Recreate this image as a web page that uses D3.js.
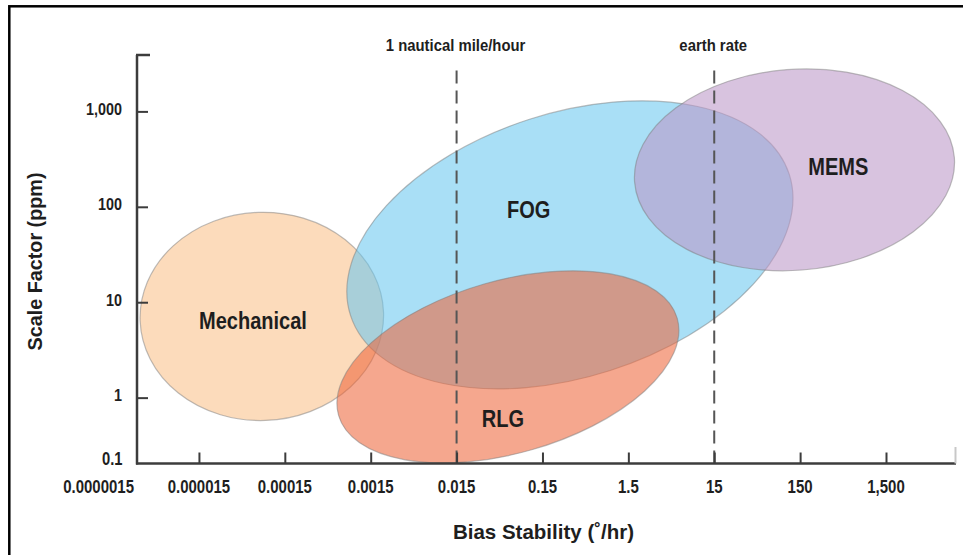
<!DOCTYPE html>
<html>
<head>
<meta charset="utf-8">
<script src="https://cdn.jsdelivr.net/npm/d3@7"></script>
<style>
  html, body { margin: 0; padding: 0; background: #ffffff; }
  svg { display: block; }
  .lbl { font-family: "Liberation Sans", Arial, Helvetica, sans-serif; font-weight: bold; fill: #1e1e1e; }
</style>
</head>
<body>
<script>
// ---- data ----
const technologies = ["Mechanical", "FOG", "RLG", "MEMS"];
const centerBias   = [8.1e-5, 0.313, 0.0594, 129];   // deg/hr
const centerScale  = [7.1, 39.9, 2.10, 244];         // ppm
const halfBiasDecades  = [1.418, 2.683, 2.051, 1.867]; // semi-axis (decades of bias)
const halfScaleDecades = [1.091, 1.383, 0.904, 1.053]; // semi-axis (decades of scale factor)
const tiltDeg      = [2, 17.8, 16, 4.4];
const fillColors   = ["#fac088", "#68c7ef", "#ed6539", "#ba96c7"];
const labelBias    = [6.38e-5, 0.1036, 0.052, 417];
const labelScale   = [5.3, 75.9, 0.497, 216];

const xTickValues = [0.000015, 0.00015, 0.0015, 0.015, 0.15, 1.5, 15, 150, 1500];
const xTickLabels = ["0.000015", "0.00015", "0.0015", "0.015", "0.15", "1.5", "15", "150", "1,500"];
const xOriginLabel = "0.0000015";
const yTickValues = [1, 10, 100, 1000];
const yTickLabels = ["1", "10", "100", "1,000"];
const yOriginLabel = "0.1";
const xDomain = [2.85e-6, 9800];
const yDomain = [0.204, 3900];

const refLineValues = [0.015, 15];
const refLineLabels = ["1 nautical mile/hour", "earth rate"];

const xTitle = "Bias Stability (˚/hr)";
const yTitle = "Scale Factor (ppm)";

// ---- drawing ----
const W = 963, H = 555;
const svg = d3.select("body").append("svg").attr("width", W).attr("height", H);

const x = d3.scaleLog().domain(xDomain).range([137, 956]);
const y = d3.scaleLog().domain(yDomain).range([463.5, 55]);

// horizontally condensed real text
function label(px, py, anchor, size, sx, str) {
  return svg.append("text").attr("class", "lbl").attr("font-size", size)
    .attr("transform", `translate(${px},${py}) scale(${sx},1)`)
    .attr("text-anchor", anchor).text(str);
}

// frame
svg.append("rect").attr("x", 9.3).attr("y", 6.3).attr("width", 980).attr("height", 580)
  .attr("fill", "none").attr("stroke", "#000").attr("stroke-width", 2.5);

// ellipses
const eg = svg.append("g");
technologies.forEach((t, i) => {
  const cx = x(centerBias[i]), cy = y(centerScale[i]);
  const rx = x(centerBias[i] * Math.pow(10, halfBiasDecades[i])) - cx;
  const ry = cy - y(centerScale[i] * Math.pow(10, halfScaleDecades[i]));
  eg.append("ellipse")
    .attr("cx", cx).attr("cy", cy).attr("rx", rx).attr("ry", ry)
    .attr("transform", `rotate(${-tiltDeg[i]},${cx},${cy})`)
    .attr("fill", fillColors[i]).attr("fill-opacity", 0.57)
    .attr("stroke", "#7d7d7d").attr("stroke-opacity", 0.5).attr("stroke-width", 1.2);
});

// reference dashed lines
refLineValues.forEach((v, i) => {
  svg.append("line")
    .attr("x1", x(v)).attr("x2", x(v)).attr("y1", 463.5).attr("y2", 65)
    .attr("stroke", "#555").attr("stroke-width", 2).attr("stroke-dasharray", "13,7");
  label(x(v) - 1, 50.5, "middle", 16, 0.93, refLineLabels[i]);
});

// ellipse labels
technologies.forEach((t, i) => {
  label(x(labelBias[i]), y(labelScale[i]), "middle", 23.3, 0.86, t);
});

// axes
const axisColor = "#3c3c3c";
const xAxis = d3.axisTop(x).tickValues(xTickValues).tickSize(11).tickFormat(() => "");
svg.append("g").attr("transform", "translate(0,463.5)").call(xAxis)
  .call(g => g.select(".domain").remove())
  .call(g => g.selectAll(".tick line").attr("stroke", axisColor).attr("stroke-width", 2));
svg.append("line").attr("x1", 136).attr("x2", 956).attr("y1", 463.5).attr("y2", 463.5)
  .attr("stroke", axisColor).attr("stroke-width", 2.5);
svg.append("line").attr("x1", 955.5).attr("x2", 955.5).attr("y1", 463.5).attr("y2", 447)
  .attr("stroke", "#c8c8c8").attr("stroke-width", 2);

const yAxis = d3.axisRight(y).tickValues(yTickValues).tickSize(11).tickFormat(() => "");
svg.append("g").attr("transform", "translate(137,0)").call(yAxis)
  .call(g => g.select(".domain").remove())
  .call(g => g.selectAll(".tick line").attr("stroke", axisColor).attr("stroke-width", 2));
svg.append("line").attr("x1", 137).attr("x2", 137).attr("y1", 55).attr("y2", 464.5)
  .attr("stroke", axisColor).attr("stroke-width", 2.5);
svg.append("line").attr("x1", 136).attr("x2", 150).attr("y1", 55).attr("y2", 55)
  .attr("stroke", axisColor).attr("stroke-width", 2.5);

// tick labels
xTickValues.forEach((v, i) => label(x(v), 493.3, "middle", 18.5, 0.81, xTickLabels[i]));
label(x(xDomain[0]) - 3, 493.3, "end", 18.5, 0.81, xOriginLabel);

yTickValues.forEach((v, i) => label(122, y(v) + 3.5, "end", 17.3, 0.83, yTickLabels[i]));
label(122.5, y(yDomain[0]) + 1.5, "end", 17.8, 0.83, yOriginLabel);

// axis titles
label(543.5, 539.3, "middle", 20.5, 1, xTitle);
svg.append("text").attr("class", "lbl").attr("font-size", 19.8)
  .attr("transform", "translate(41.5,261.5) rotate(-90)").attr("text-anchor", "middle").text(yTitle);
</script>
</body>
</html>
